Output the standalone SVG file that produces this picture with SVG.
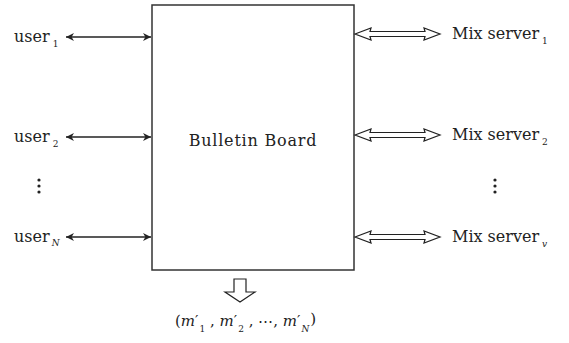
<svg xmlns="http://www.w3.org/2000/svg" width="569" height="343" viewBox="0 0 569 343">
<style>
.t{font-family:'DejaVu Serif', 'Liberation Serif', serif;fill:#222}
.lbl{font-size:16px}
.sub{font-size:9px}
.it{font-style:italic}
.ln{stroke:#222;stroke-width:1.5;fill:none}
.dbl{fill:#fff;stroke:#222;stroke-width:1.2;stroke-linejoin:miter}
</style>
<defs>
<marker id="ah" viewBox="0 0 10 10" refX="10" refY="5" markerWidth="10" markerHeight="8" markerUnits="userSpaceOnUse" orient="auto-start-reverse">
<path d="M0,0 L10,5 L0,10 L3,5 Z" fill="#222"/>
</marker>
</defs>
<rect width="569" height="343" fill="#fff"/>
<g id="board">
<rect x="152" y="5" width="202" height="265" fill="#fff" stroke="#333" stroke-width="1.5"/>
<text class="t" x="253" y="146" font-size="16" letter-spacing="0.8" text-anchor="middle">Bulletin Board</text>
</g>
<g id="user1"><text class="t lbl" x="14" y="42">user<tspan class="sub" dx="3" dy="5">1</tspan></text></g>
<g id="user2"><text class="t lbl" x="14" y="142">user<tspan class="sub" dx="3" dy="5">2</tspan></text></g>
<g id="userN"><text class="t lbl" x="14" y="242">user<tspan class="sub it" dx="2" dy="4">N</tspan></text></g>
<g id="userdots" fill="#222"><circle cx="39" cy="180" r="1.6"/><circle cx="39" cy="186" r="1.6"/><circle cx="39" cy="192" r="1.6"/></g>
<g id="mix1"><text class="t lbl" x="452" y="39">Mix server<tspan class="sub" dx="3" dy="5">1</tspan></text></g>
<g id="mix2"><text class="t lbl" x="452" y="140">Mix server<tspan class="sub" dx="3" dy="5">2</tspan></text></g>
<g id="mixv"><text class="t lbl" x="452" y="242">Mix server<tspan class="sub it" dx="3" dy="5">v</tspan></text></g>
<g id="mixdots" fill="#222"><circle cx="495" cy="180" r="1.6"/><circle cx="495" cy="186" r="1.6"/><circle cx="495" cy="192" r="1.6"/></g>
<g id="output"><text class="t" font-size="15" x="175" y="326">(<tspan class="it">m</tspan>′<tspan class="sub" dx="1" dy="6">1</tspan><tspan dy="-6"> , </tspan><tspan class="it">m</tspan>′<tspan class="sub" dx="1" dy="6">2</tspan><tspan dy="-6"> , ⋯, </tspan><tspan class="it">m</tspan>′<tspan class="sub it" dx="1" dy="6">N</tspan><tspan dx="1" dy="-8">)</tspan></text></g>
<g id="connectors">
<line class="ln" x1="66" y1="37" x2="151" y2="37" marker-start="url(#ah)" marker-end="url(#ah)"/>
<line class="ln" x1="66" y1="137" x2="151" y2="137" marker-start="url(#ah)" marker-end="url(#ah)"/>
<line class="ln" x1="66" y1="237" x2="151" y2="237" marker-start="url(#ah)" marker-end="url(#ah)"/>
<path class="dbl" d="M355,34 L371,28 L370,31.5 L425,31.5 L424,28 L440,34 L424,40 L425,36.5 L370,36.5 L371,40 Z"/>
<path class="dbl" d="M355,135 L371,129 L370,132.5 L425,132.5 L424,129 L440,135 L424,141 L425,137.5 L370,137.5 L371,141 Z"/>
<path class="dbl" d="M355,237 L371,231 L370,234.5 L425,234.5 L424,231 L440,237 L424,243 L425,239.5 L370,239.5 L371,243 Z"/>
<path class="dbl" d="M234,279 L246,279 L246,292 L255,292 L240,302 L225,292 L234,292 Z"/>
</g>
</svg>
